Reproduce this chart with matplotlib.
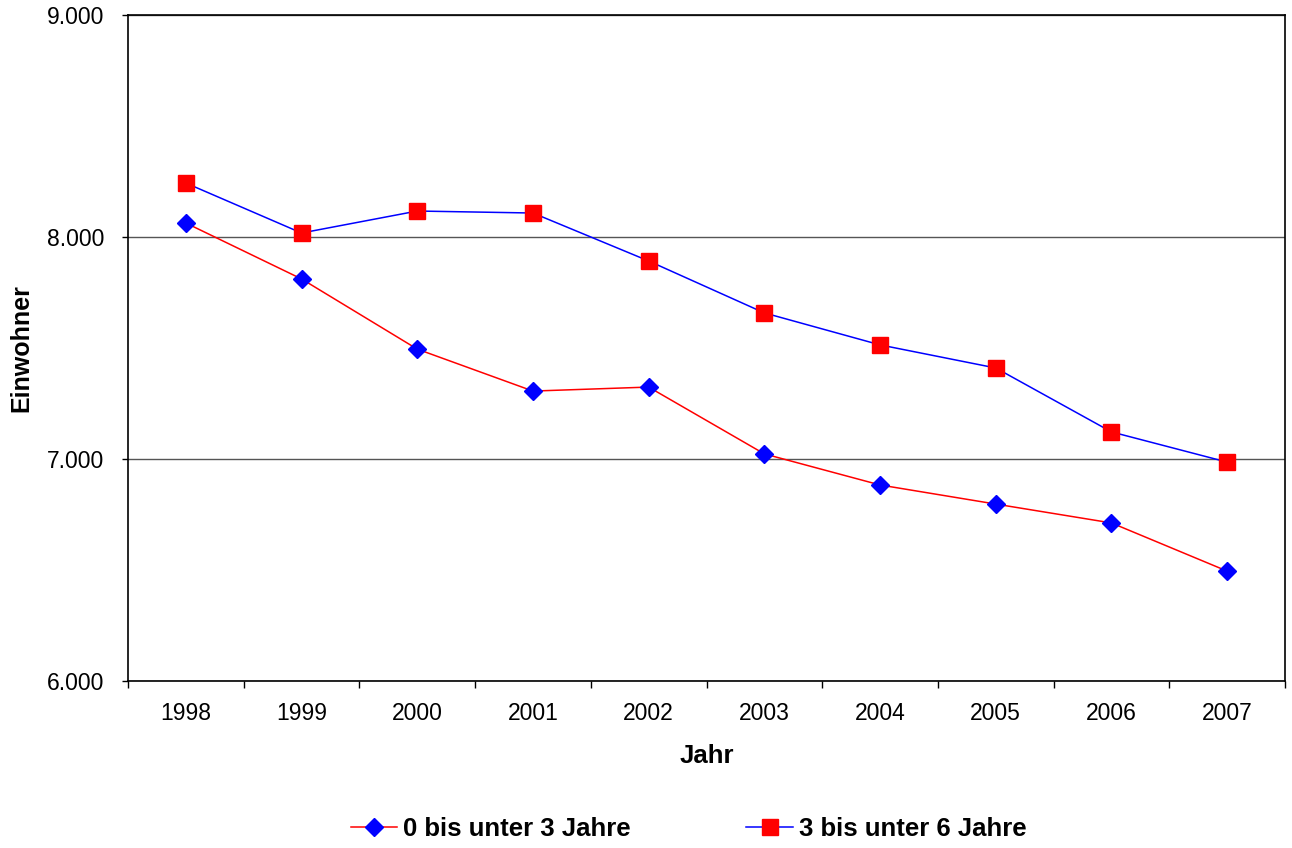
import matplotlib
matplotlib.use("Agg")
import matplotlib.pyplot as plt
from matplotlib.ticker import FuncFormatter, FixedLocator

plt.rcParams['font.family'] = ['Liberation Sans', 'DejaVu Sans']

# data
years = ['1998', '1999', '2000', '2001', '2002', '2003', '2004', '2005', '2006', '2007']
unter3 = [8063, 7811, 7495, 7306, 7324, 7023, 6883, 6797, 6712, 6495]
unter6 = [8243, 8018, 8117, 8108, 7892, 7658, 7514, 7410, 7122, 6986]
labels = ['0 bis unter 3 Jahre', '3 bis unter 6 Jahre']

fig = plt.figure(figsize=(12.92, 8.48), dpi=100)
ax = fig.add_axes([128 / 1292, 1 - 681 / 848, (1285 - 128) / 1292, (681 - 15) / 848])

x = list(range(len(years)))
ax.plot(x, unter3, color='red', lw=1.1, marker='D', markersize=9.5,
        markerfacecolor='blue', markeredgecolor='blue', label=labels[0], zorder=3)
ax.plot(x, unter6, color='blue', lw=1.1, marker='s', markersize=11,
        markerfacecolor='red', markeredgecolor='red', label=labels[1], zorder=3)

ax.set_xlim(-0.5, len(years) - 0.5)
ax.set_ylim(6000, 9000)
ax.set_yticks([6000, 7000, 8000, 9000])
ax.yaxis.set_major_formatter(FuncFormatter(lambda v, p: f"{int(v):,}".replace(',', '.')))
ax.grid(axis='y', color='#555555', lw=1)
ax.set_axisbelow(True)

# category labels centered, tick marks on the boundaries
ax.set_xticks(x)
ax.set_xticklabels(years)
ax.tick_params(axis='x', which='major', length=0, pad=15, labelsize=16.5)
ax.xaxis.set_minor_locator(FixedLocator([i - 0.5 for i in range(len(years) + 1)]))
ax.tick_params(axis='x', which='minor', length=5, width=1, direction='out')
ax.tick_params(axis='y', length=4, width=1, direction='out', labelsize=16.5, pad=13)

for s in ax.spines.values():
    s.set_linewidth(1.2)

ax.set_xlabel('Jahr', fontsize=18.5, fontweight='bold', labelpad=14)
ax.set_ylabel('Einwohner', fontsize=18, fontweight='bold', labelpad=10)

fig.legend(loc='center', bbox_to_anchor=(0.533, 1 - 829 / 848), ncol=2, frameon=False,
           prop={'size': 18.5, 'weight': 'bold'}, handlelength=1.8, handletextpad=0.25,
           columnspacing=4.5)

fig.savefig('out.png', dpi=100)
